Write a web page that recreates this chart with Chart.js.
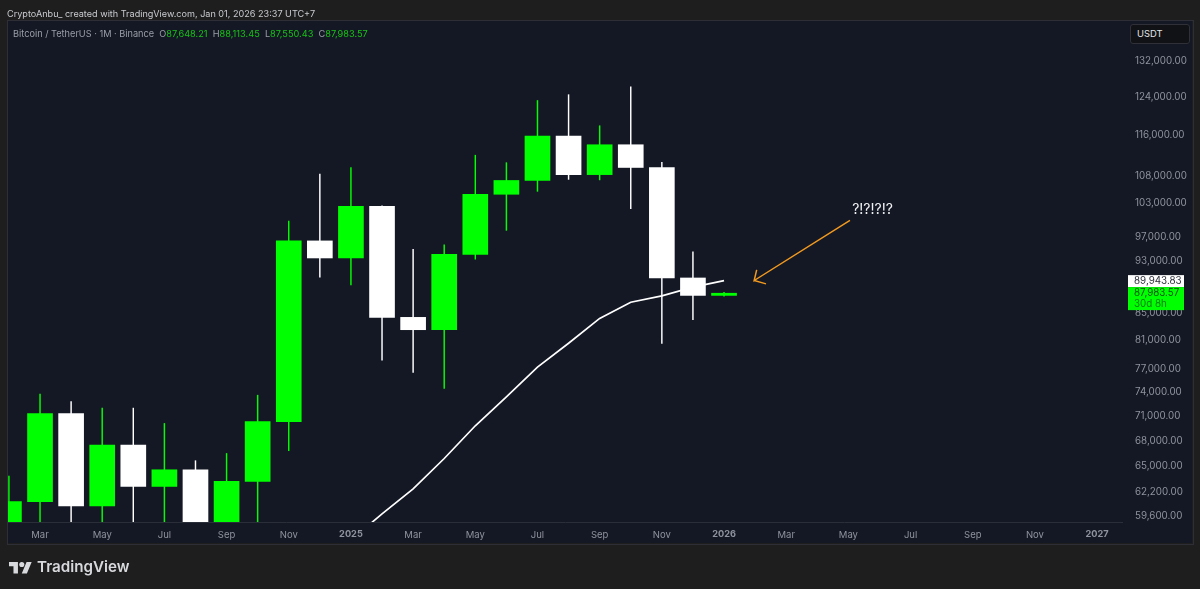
<!DOCTYPE html>
<html><head><meta charset="utf-8">
<script src="https://cdn.jsdelivr.net/npm/chart.js@4/dist/chart.umd.min.js"></script>
<style>
html,body{margin:0;padding:0;background:#1e1e1e;width:1200px;height:589px;overflow:hidden}
#frame{position:absolute;left:7px;top:20px;width:1185px;height:523px;border:1px solid #2e2f36;box-sizing:content-box;pointer-events:none;z-index:3}
canvas{position:absolute;left:0;top:0}
.t{position:absolute;font-family:Inter,"Noto Sans",sans-serif;white-space:nowrap;z-index:4}
#credit{left:7px;top:7px;font-size:9.1px;color:#c9cbd0;line-height:13px}
#legend{left:13px;top:27px;font-size:9.2px;color:#9a9ea8;line-height:13px}
#legend b{font-weight:400;color:#16c416}
#legend span{margin-left:2.6px}
#usdt{left:1130px;top:24px;width:58px;height:18px;line-height:18px;box-sizing:content-box;background:#111215;border:1px solid #2f3038;border-radius:3px;color:#e4e5e8;font-size:9.4px;text-indent:6px}
#logo{position:absolute;left:9px;top:559px;width:23px;height:16px;z-index:4}
#brand{left:37px;top:556px;font-size:15.2px;font-weight:600;color:#d8d9dc;line-height:21px}
</style></head><body>
<canvas id="c" width="1200" height="589"></canvas>
<div id="frame"></div>
<div class="t" id="credit">CryptoAnbu_ created with TradingView.com, Jan 01, 2026 23:37 UTC+7</div>
<div class="t" id="legend">Bitcoin / TetherUS · 1M · Binance <span>O<b>87,648.21</b></span> <span>H<b>88,113.45</b></span> <span>L<b>87,550.43</b></span> <span>C<b>87,983.57</b></span></div>
<div class="t" id="usdt">USDT</div>
<svg id="logo" viewBox="0 0 36 24"><path fill="#d8d9dc" d="M14 22H7V11H0V4h14v18zM28 22h-8l7.5-18h8L28 22z"/><circle fill="#d8d9dc" cx="20" cy="8" r="4"/></svg>
<div class="t" id="brand">TradingView</div>
<script>
// month index: 1 = Feb 2024 ... 24 = Jan 2026
const months = [1,2,3,4,5,6,7,8,9,10,11,12,13,14,15,16,17,18,19,20,21,22,23,24];
const opens  = [42283,61130,71280,60672,67491,62772,64628,58973,63327,70292,96407,93576,102429,84350,82550,94172,104591,107146,115764,108246,114048,109608,90360,87648.21];
const highs  = [63913,73777,72797,71979,71980,70079,65659,66498,73620,99800,108353,109588,102500,95000,95758,111980,110530,123218,124474,117900,126199,110600,94600,88113.45];
const lows   = [41884,59005,56552,56555,58402,53485,49000,52550,58946,66835,90500,89256,78258,76606,74508,93377,98200,105127,107350,107255,102000,80600,84000,87550.43];
const closes = [61130,71280,60672,67491,62772,64628,58973,63327,70292,96407,93576,102429,84350,82550,94172,104591,107146,115764,108246,114048,109608,90360,87648,87983.57];
const maMonths = [12,13,14,15,16,17,18,19,20,21,22,23,24];
const maValues = [57141,59834,62500,65912,69793,73419,77321,80619,84192,86616,87570,88919,89943.83];
const xTickMonths = [2,4,6,8,10,12,14,16,18,20,22,24,26,28,30,32,34,36];
const xTickLabels = ['Mar','May','Jul','Sep','Nov','2025','Mar','May','Jul','Sep','Nov','2026','Mar','May','Jul','Sep','Nov','2027'];
const yTicks = [132000,124000,116000,108000,103000,97000,93000,85000,81000,77000,74000,71000,68000,65000,62200,59600];
const arrowX = [28.05,24.97,25.05,24.97,25.35];
const arrowY = [99940,89960,91650,89960,89430];
const noteText = '?!?!?!?';
const noteX = 28.12, noteY = 101870;
const maLast = 89943.83, lastClose = 87983.57, countdown = '30d 8h';

const UP='#00ff00', DOWN='#ffffff';
const colors = opens.map((o,i)=> closes[i]>=o ? UP : DOWN);
const fmt = v => v.toLocaleString('en-US',{minimumFractionDigits:2,maximumFractionDigits:2});
const FONT = 'Inter, "Noto Sans", sans-serif';

const overlay = {
  id:'overlay',
  afterDraw(ch){
    const {ctx,scales:{x,y}} = ch;
    ctx.save();
    ctx.font = '14px '+FONT;
    ctx.fillStyle = '#f0f1f3';
    ctx.textAlign='left'; ctx.textBaseline='middle';
    ctx.fillText(noteText, x.getPixelForValue(noteX), y.getPixelForValue(noteY));
    const bx=1128, bw=56, tx=1134;
    const ym=y.getPixelForValue(maLast), yc=y.getPixelForValue(lastClose);
    ctx.fillStyle='#ffffff'; ctx.fillRect(bx,ym-5.5,bw,12);
    ctx.fillStyle='#00ff00'; ctx.fillRect(bx,ym+6.5,bw,23);
    ctx.font='9.8px '+FONT;
    ctx.fillStyle='#2a2e39'; ctx.fillText(fmt(maLast),tx,ym+0.5);
    ctx.fillStyle='#0b4d12'; ctx.fillText(fmt(lastClose),tx,yc);
    ctx.fillStyle='#0c7a14'; ctx.fillText(countdown,tx,yc+10.5);
    ctx.restore();
  }
};
const bgPlugin = {
  id:'bg',
  beforeDraw(ch){
    const {ctx}=ch;
    ctx.save();
    ctx.fillStyle='#141824'; ctx.fillRect(8,21,1184,522);
    ctx.restore();
  }
};

new Chart(document.getElementById('c'),{
  type:'bar',
  data:{datasets:[
    {label:'Body',order:1,grouped:false,barThickness:25,borderWidth:0,
     backgroundColor:colors,
     data:months.map((m,i)=>({x:m,y:[opens[i],closes[i]]}))},
    {label:'Wick',order:2,grouped:false,barThickness:0.8,borderWidth:0,
     backgroundColor:colors,
     data:months.map((m,i)=>({x:m,y:[lows[i],highs[i]]}))},
    {label:'SMA 20',type:'line',order:3,borderColor:'#ffffff',borderWidth:1.7,pointRadius:0,tension:0,
     data:maMonths.map((m,i)=>({x:m,y:maValues[i]}))},
    {label:'Arrow',type:'line',order:0,borderColor:'#f2991f',borderWidth:1.5,pointRadius:0,tension:0,
     data:arrowX.map((v,i)=>({x:v,y:arrowY[i]}))}
  ]},
  options:{
    responsive:false,animation:false,devicePixelRatio:1,
    layout:{padding:{left:8,right:8,top:21,bottom:46}},
    plugins:{legend:{display:false},tooltip:{enabled:false},title:{display:false}},
    scales:{
      x:{type:'linear',offset:false,min:0.97,max:36.8,
        grid:{display:false,drawTicks:false},
        border:{display:true,color:'#2a2e39',width:1},
        afterFit(s){s.height=21;},
        afterBuildTicks(s){s.ticks=xTickMonths.map(v=>({value:v}));},
        ticks:{autoSkip:false,maxRotation:0,padding:7,color:'#8f939e',
          font:c=>({family:FONT,size:/^\d/.test(xTickLabels[c.index]||'')?9.2:9.5,weight:/^\d/.test(xTickLabels[c.index]||'')?'700':'400'}),
          callback:(v,i)=>xTickLabels[i]}
      },
      y:{type:'logarithmic',position:'right',min:58990,max:141580,
        grid:{display:false,drawTicks:false},
        border:{display:false},
        afterFit(s){s.width=70;},
        afterBuildTicks(s){s.ticks=yTicks.map(v=>({value:v}));},
        ticks:{autoSkip:false,padding:13,crossAlign:'near',color:'#8f939e',
          font:{family:FONT,size:9.8},
          callback:v=>fmt(v)}
      }
    }
  },
  plugins:[bgPlugin,overlay]
});
</script>
</body></html>
